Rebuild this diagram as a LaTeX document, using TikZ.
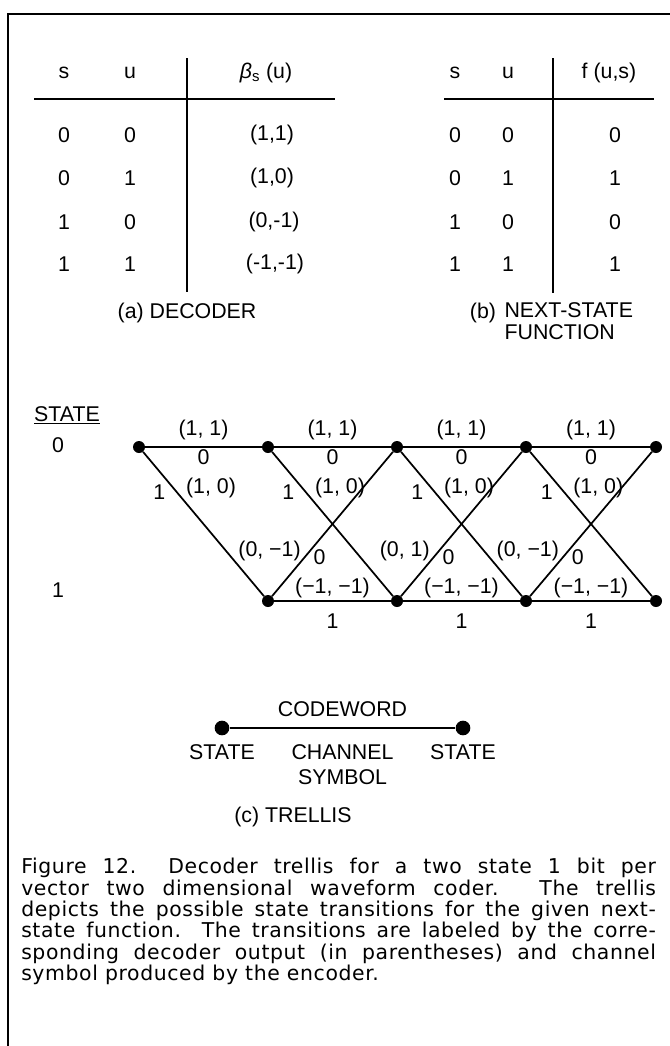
\documentclass[tikz,border=0pt]{standalone}
\usepackage{fontspec}
\setmainfont{Liberation Sans}
\newfontfamily\capfont[LetterSpace=3]{DejaVu Sans}
\usetikzlibrary{positioning}

\begin{document}
\begin{tikzpicture}[x=0.75pt, y=-0.75pt,
    lbl/.style={font=\fontsize{16}{18.5}\selectfont, inner sep=1pt},
    dot/.style={circle, fill=black, inner sep=0pt, minimum size=9pt},
    bigdot/.style={circle, fill=black, inner sep=0pt, minimum size=11pt},
    rule/.style={line width=1.1pt},
    edge/.style={line width=1.3pt}]

\useasboundingbox (0,0) rectangle (670,1046);

    % Frame
    \coordinate (frameTR) at (670,14);
    \coordinate (frameTL) at (8,14);
    \coordinate (frameBL) at (8,1046);
    \draw[line width=1.2pt] (frameTR) -- (frameTL) -- (frameBL);

    % (a) decoder table
    \node[lbl] (aS) at (64,73) {s};
    \node[lbl] (aU) at (130,73) {u};
    \node[lbl] (aB) at (266,73) {\textit{β}\textsubscript{s}\ (u)};
    \node[lbl] (aS1) at (64,135) {0};
    \node[lbl] (aU1) at (130,135) {0};
    \node[lbl] (aB1) at (272,135) {(1,1)};
    \node[lbl] (aS2) at (64,178) {0};
    \node[lbl] (aU2) at (130,178) {1};
    \node[lbl] (aB2) at (272,178) {(1,0)};
    \node[lbl] (aS3) at (64,222) {1};
    \node[lbl] (aU3) at (130,222) {0};
    \node[lbl] (aB3) at (274,222) {(0,-1)};
    \node[lbl] (aS4) at (64,264) {1};
    \node[lbl] (aU4) at (130,264) {1};
    \node[lbl] (aB4) at (275,264) {(-1,-1)};
    \coordinate (aRuleL) at (34,99);
    \coordinate (aRuleR) at (335,99);
    \coordinate (aBarT) at (187,58);
    \coordinate (aBarB) at (187,292);
    \draw[rule] (aRuleL) -- (aRuleR);
    \draw[rule] (aBarT) -- (aBarB);
    \node[lbl] (capA) at (187,313) {(a) DECODER};

    % (b) next-state table
    \node[lbl] (bS) at (455,73) {s};
    \node[lbl] (bU) at (508,73) {u};
    \node[lbl] (bF) at (609,73) {f (u,s)};
    \node[lbl] (bS1) at (455,135) {0};
    \node[lbl] (bU1) at (508,135) {0};
    \node[lbl] (bF1) at (615,135) {0};
    \node[lbl] (bS2) at (455,178) {0};
    \node[lbl] (bU2) at (508,178) {1};
    \node[lbl] (bF2) at (615,178) {1};
    \node[lbl] (bS3) at (455,222) {1};
    \node[lbl] (bU3) at (508,222) {0};
    \node[lbl] (bF3) at (615,222) {0};
    \node[lbl] (bS4) at (455,264) {1};
    \node[lbl] (bU4) at (508,264) {1};
    \node[lbl] (bF4) at (615,264) {1};
    \coordinate (bRuleL) at (444,99);
    \coordinate (bRuleR) at (654,99);
    \coordinate (bBarT) at (553,58);
    \coordinate (bBarB) at (553,293);
    \draw[rule] (bRuleL) -- (bRuleR);
    \draw[rule] (bBarT) -- (bBarB);
    \node[lbl] (capB) at (483,313) {(b)};
    \node[lbl, font=\fontsize{16}{16.5}\selectfont, align=left, anchor=north west]
        (capBtxt) at ([xshift=4pt]capB.north east) {NEXT-STATE\\FUNCTION};

    % (c) trellis: states
    \node[lbl] (stateHd) at (67,415) {\underline{STATE}};
    \node[lbl] (st0) at (58,445) {0};
    \node[lbl] (st1) at (58,590) {1};

    \node[dot] (t0) at (139,447) {};
    \node[dot] (t1) at (268,447) {};
    \node[dot] (t2) at (397,447) {};
    \node[dot] (t3) at (526,447) {};
    \node[dot] (t4) at (656,447) {};
    \node[dot] (b1) at (268,601) {};
    \node[dot] (b2) at (397,601) {};
    \node[dot] (b3) at (526,601) {};
    \node[dot] (b4) at (656,601) {};

    % Top branches
    \draw[edge] (t0) -- (t1) node[midway, above=4pt, lbl] {(1, 1)} node[midway, below=0.5pt, lbl] {0};
    \draw[edge] (t1) -- (t2) node[midway, above=4pt, lbl] {(1, 1)} node[midway, below=0.5pt, lbl] {0};
    \draw[edge] (t2) -- (t3) node[midway, above=4pt, lbl] {(1, 1)} node[midway, below=0.5pt, lbl] {0};
    \draw[edge] (t3) -- (t4) node[midway, above=4pt, lbl] {(1, 1)} node[midway, below=0.5pt, lbl] {0};

    % Down branches
    \draw[edge] (t0) -- (b1) node[pos=0.28, left=7pt, lbl] {1} node[pos=0.25, right=8pt, lbl] {(1, 0)};
    \draw[edge] (t1) -- (b2) node[pos=0.28, left=7pt, lbl] {1} node[pos=0.25, right=8pt, lbl] {(1, 0)};
    \draw[edge] (t2) -- (b3) node[pos=0.28, left=7pt, lbl] {1} node[pos=0.25, right=8pt, lbl] {(1, 0)};
    \draw[edge] (t3) -- (b4) node[pos=0.28, left=7pt, lbl] {1} node[pos=0.25, right=8pt, lbl] {(1, 0)};

    % Up branches
    \draw[edge] (b1) -- (t2) node[pos=0.31, left=5pt, lbl] {(0, −1)} node[pos=0.27, right=5pt, lbl] {0};
    \draw[edge] (b2) -- (t3) node[pos=0.31, left=5pt, lbl] {(0, 1)} node[pos=0.27, right=5pt, lbl] {0};
    \draw[edge] (b3) -- (t4) node[pos=0.31, left=5pt, lbl] {(0, −1)} node[pos=0.27, right=5pt, lbl] {0};

    % Bottom branches
    \draw[edge] (b1) -- (b2) node[midway, above=0.7pt, lbl] {(−1, −1)} node[midway, below=8pt, lbl] {1};
    \draw[edge] (b2) -- (b3) node[midway, above=0.7pt, lbl] {(−1, −1)} node[midway, below=8pt, lbl] {1};
    \draw[edge] (b3) -- (b4) node[midway, above=0.7pt, lbl] {(−1, −1)} node[midway, below=8pt, lbl] {1};

    % Legend
    \node[bigdot] (cwL) at (222,728) {};
    \node[bigdot] (cwR) at (463,728) {};
    \node[lbl, below=5.5pt of cwL] (cwLstate) {STATE};
    \node[lbl, below=5.5pt of cwR] (cwRstate) {STATE};
    \draw[edge] (cwL) -- (cwR) node[midway, above=7pt, lbl] {CODEWORD}
        node[midway, below=11pt, lbl, font=\fontsize{16}{18.75}\selectfont, align=center] {CHANNEL\\SYMBOL};
    \node[lbl] (capC) at (293,817) {(c) TRELLIS};

    % Caption
    \node[anchor=north west, inner sep=0pt, text width=476pt, align=justify,
          font=\capfont\fontsize{15.3}{16}\selectfont] (figCap) at (21,858)
        {Figure 12.\ \ Decoder trellis for a two state 1 bit per\linebreak
         vector two dimensional waveform coder. The trellis\linebreak
         depicts the possible state transitions for the given next-\linebreak
         state function. The transitions are labeled by the corre-\linebreak
         sponding decoder output (in parentheses) and channel\linebreak
         symbol produced by the encoder.};

\end{tikzpicture}
\end{document}
